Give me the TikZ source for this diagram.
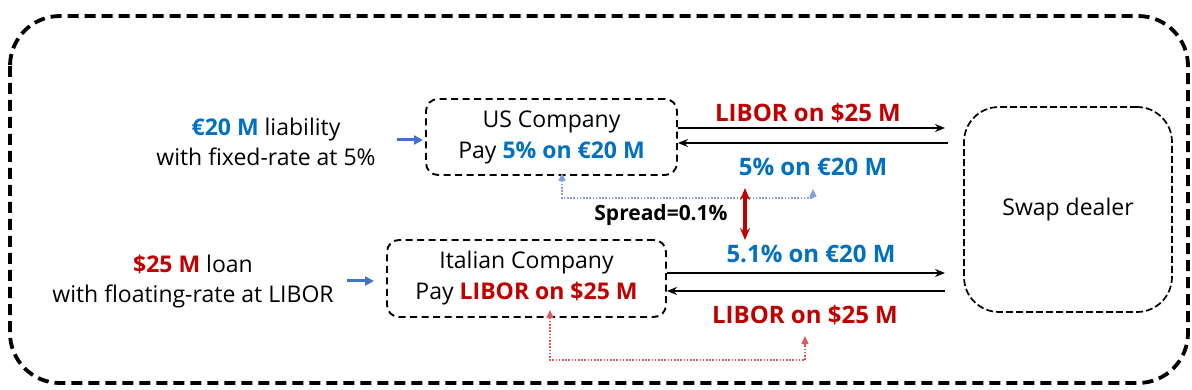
\documentclass[tikz,border=0pt]{standalone}
\usepackage{fontspec}
\setmainfont{Open Sans}
\usetikzlibrary{arrows.meta}
\definecolor{myblue}{HTML}{0070C0}
\definecolor{myred}{HTML}{C00000}
\definecolor{arrblue}{HTML}{4472C4}
\definecolor{dotblue}{HTML}{7F9FDB}
\definecolor{dotred}{HTML}{E05A5A}
\begin{document}
\begin{tikzpicture}[x=1pt,y=-1pt,
  txt/.style={font=\fontsize{23}{30}\selectfont, align=center, inner sep=0pt},
  lbl/.style={font=\fontsize{24}{30}\selectfont\bfseries, inner sep=0pt},
  company/.style={draw, dash pattern=on 7pt off 4.5pt, line width=1.9pt, rounded corners=12pt,
    font=\fontsize{23}{31}\selectfont, align=center, inner sep=0pt},
  dealer/.style={draw, dash pattern=on 7pt off 3pt, line width=1.7pt, rounded corners=35pt,
    font=\fontsize{23}{30}\selectfont, align=center, inner sep=0pt},
  frame/.style={draw, dash pattern=on 11pt off 6pt, line width=3.8pt, rounded corners=50pt},
  flow/.style={-{Stealth[length=10pt,width=8pt]}, line width=1.6pt},
  inarrow/.style={-{Triangle[length=9pt,width=9pt]}, line width=3pt, arrblue},
  dotb/.style={{Triangle[length=8pt,width=7pt]}-{Triangle[length=8pt,width=7pt]}, line width=1.4pt, dotblue, dash pattern=on 1.6pt off 1.6pt},
  dotr/.style={{Triangle[length=8pt,width=7pt]}-{Triangle[length=8pt,width=7pt]}, line width=1.4pt, dotred, dash pattern=on 1.6pt off 1.6pt},
  spread/.style={{Stealth[length=12pt,width=10pt]}-{Stealth[length=12pt,width=10pt]}, line width=3.4pt, myred}
]
\useasboundingbox (0,0) rectangle (1192,390);
\draw[frame] (10,16) rectangle (1188,383);

% sources
\node[txt] (src1) at (266,142) {\textbf{\color{myblue}€20 M} liability\\with fixed-rate at 5\%};
\node[txt] (src2) at (193,282) {\textbf{\color{myred}\$25 M} loan\\with floating-rate at LIBOR};

% companies
\node[company, minimum width=251pt, minimum height=76pt] (us) at (551.5,137)
  {US Company\\Pay \textbf{\color{myblue}5\% on €20 M}};
\node[company, minimum width=279pt, minimum height=77pt] (it) at (526.5,278.5)
  {Italian Company\\Pay \textbf{\color{myred}LIBOR on \$25 M}};
\node[dealer, minimum width=208pt, minimum height=205pt] (dealer) at (1068,209.5) {Swap dealer};

% input arrows
\coordinate (in1) at (397,140);
\coordinate (in1e) at (423,140);
\coordinate (in2) at (347,281);
\coordinate (in2e) at (374,281);
\draw[inarrow] (in1) -- (in1e);
\draw[inarrow] (in2) -- (in2e);

% flows
\coordinate (t1) at (945,128);
\coordinate (t2) at (948,143);
\coordinate (b1) at (945,273);
\coordinate (b2) at (945,291);
\draw[flow] (us.east |- t1) -- (t1);
\draw[flow] (t2) -- (us.east |- t2);
\draw[flow] (it.east |- b1) -- (b1);
\draw[flow] (b2) -- (it.east |- b2);

% labels
\node[lbl, myred] (l1) at (808,113) {LIBOR on \$25 M};
\node[lbl, myblue] (l2) at (813,167) {5\% on €20 M};
\node[lbl, myblue] (l3) at (811,254) {5.1\% on €20 M};
\node[lbl, myred] (l4) at (805,315) {LIBOR on \$25 M};
\node[lbl, font=\fontsize{21}{26}\selectfont\bfseries] (sp) at (661,215) {Spread=0.1\%};

% dotted links
\coordinate (bd1) at (562,173);
\coordinate (bd2) at (813,189);
\draw[dotb] (bd1) -- (562,198) -- (813,198) -- (bd2);
\coordinate (rd1) at (550,310);
\coordinate (rd2) at (805,336);
\draw[dotr] (rd1) -- (550,360) -- (805,360) -- (rd2);

% spread arrow
\coordinate (s1) at (745,188);
\coordinate (s2) at (745,240);
\draw[spread] (s1) -- (s2);
\end{tikzpicture}
\end{document}
